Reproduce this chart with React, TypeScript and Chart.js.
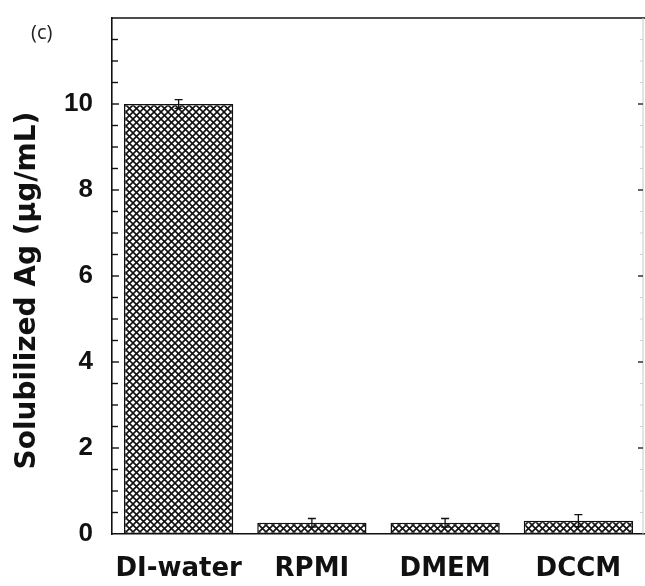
import React, { useEffect, useRef } from "react";
import { Chart, registerables } from "chart.js";

Chart.register(...registerables);

const categories = ["DI-water", "RPMI", "DMEM", "DCCM"];
const values = [10.0, 0.26, 0.26, 0.31];
const errors = [0.1, 0.1, 0.1, 0.14];
const yLabelTicks = [0, 2, 4, 6, 8, 10];
const yTitle = "Solubilized Ag (µg/mL)";
const panelLabel = "(c)";

function makePattern(): CanvasPattern | string {
  const p = 7;
  const c = document.createElement("canvas");
  c.width = p;
  c.height = p;
  const g = c.getContext("2d");
  if (!g) return "#888";
  g.fillStyle = "#ffffff";
  g.fillRect(0, 0, p, p);
  g.strokeStyle = "#111111";
  g.lineWidth = 1.6;
  for (let k = -1; k <= 2; k++) {
    g.beginPath();
    g.moveTo(k * p, 0);
    g.lineTo(k * p + p, p);
    g.moveTo(k * p + p, 0);
    g.lineTo(k * p, p);
    g.stroke();
  }
  const ctx2 = document.createElement("canvas").getContext("2d");
  return ctx2 ? (ctx2.createPattern(c, "repeat") as CanvasPattern) : "#888";
}

const framePlugin = {
  id: "frame",
  afterDraw(chart: any) {
    const { ctx, chartArea, scales } = chart;
    const y = scales.y;
    const W = chart.width;
    ctx.save();
    ctx.strokeStyle = "#111";
    ctx.lineWidth = 1.6;
    ctx.beginPath();
    ctx.moveTo(chartArea.left, chartArea.top);
    ctx.lineTo(W, chartArea.top);
    ctx.stroke();
    const rx = W - 2;
    ctx.strokeStyle = "#c8c8c8";
    ctx.lineWidth = 1;
    ctx.beginPath();
    ctx.moveTo(rx, chartArea.top);
    ctx.lineTo(rx, chartArea.bottom);
    ctx.stroke();
    y.ticks.forEach((t: any) => {
      const py = y.getPixelForValue(t.value);
      const major = Math.abs(t.value % 2) < 1e-6;
      if (t.value <= 0 || t.value >= 12) return;
      ctx.strokeStyle = "#111";
      ctx.lineWidth = 1.4;
      ctx.beginPath();
      ctx.moveTo(chartArea.left, py);
      ctx.lineTo(chartArea.left + (major ? 7 : 6), py);
      ctx.stroke();
      ctx.strokeStyle = major ? "#333" : "#d0d0d0";
      ctx.lineWidth = major ? 1.5 : 1;
      ctx.beginPath();
      ctx.moveTo(rx, py);
      ctx.lineTo(rx - (major ? 5 : 3), py);
      ctx.stroke();
    });
    ctx.restore();
  },
};

const errorBarPlugin = {
  id: "errorBars",
  afterDatasetsDraw(chart: any) {
    const { ctx, scales } = chart;
    const meta = chart.getDatasetMeta(0);
    ctx.save();
    ctx.strokeStyle = "#111";
    ctx.lineWidth = 1.3;
    meta.data.forEach((bar: any, i: number) => {
      const v = values[i];
      const e = errors[i];
      const yt = scales.y.getPixelForValue(v + e);
      const yb = scales.y.getPixelForValue(v - e);
      ctx.beginPath();
      ctx.moveTo(bar.x, yt);
      ctx.lineTo(bar.x, yb);
      ctx.moveTo(bar.x - 4, yt);
      ctx.lineTo(bar.x + 4, yt);
      ctx.moveTo(bar.x - 4, yb);
      ctx.lineTo(bar.x + 4, yb);
      ctx.stroke();
    });
    ctx.restore();
  },
};

export default function App() {
  const ref = useRef<HTMLCanvasElement | null>(null);

  useEffect(() => {
    if (!ref.current) return;
    const pattern = makePattern();
    const chart = new Chart(ref.current, {
      type: "bar",
      data: {
        labels: categories,
        datasets: [
          {
            data: values,
            backgroundColor: pattern as any,
            borderColor: "#111",
            borderWidth: 1.5,
            borderSkipped: false,
            categoryPercentage: 1,
            barPercentage: 0.82,
          },
        ],
      },
      options: {
        responsive: false,
        animation: false,
        layout: { padding: { top: 18, right: 0, left: 0, bottom: 0 } },
        plugins: {
          legend: { display: false },
          tooltip: { enabled: false },
          title: { display: false },
        },
        scales: {
          x: {
            grid: { display: false, drawTicks: false },
            border: { display: true, color: "#111", width: 1.6 },
            ticks: {
              color: "#111",
              padding: 20,
              font: { family: "'DejaVu Sans'", weight: "bold", size: 26 },
            },
            afterFit(scale: any) {
              scale.height = 52;
              scale.paddingLeft = 0;
              scale.paddingRight = 0;
            },
          },
          y: {
            min: 0,
            max: 12,
            grid: { display: false, drawTicks: false },
            border: { display: true, color: "#111", width: 1.6 },
            ticks: {
              stepSize: 0.5,
              autoSkip: false,
              color: "#111",
              padding: 19,
              font: { family: "'Liberation Sans'", weight: "bold", size: 26 },
              callback: (v: any) => (yLabelTicks.includes(Number(v)) ? String(v) : ""),
            },
            title: {
              display: true,
              text: yTitle + "   ",
              color: "#111",
              font: { family: "'DejaVu Sans'", weight: "bold", size: 28 },
              padding: { top: 11, bottom: 0 },
            },
            afterFit(scale: any) {
              scale.width = 112;
              scale.paddingTop = 0;
              scale.paddingBottom = 0;
            },
          },
        },
      },
      plugins: [framePlugin, errorBarPlugin],
    });
    return () => chart.destroy();
  }, []);

  return (
    <div style={{ position: "fixed", left: 0, top: 0, width: 645, height: 586, background: "#fff" }}>
      <canvas ref={ref} width={645} height={586} style={{ display: "block" }} />
      <div
        style={{
          position: "absolute",
          left: 31,
          top: 21,
          fontFamily: "'Open Sans', sans-serif",
          fontSize: 20,
          color: "#222",
          lineHeight: "22px",
        }}
      >
        {panelLabel}
      </div>
    </div>
  );
}
